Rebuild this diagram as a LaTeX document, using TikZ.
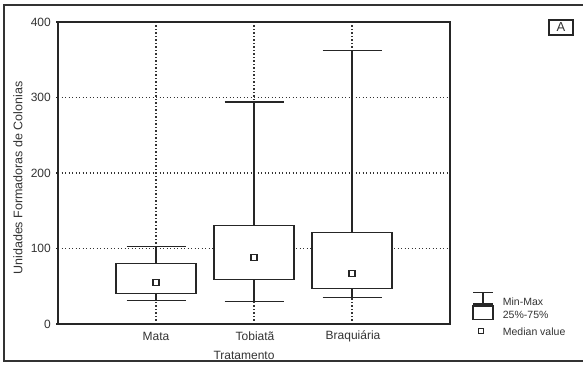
\documentclass[tikz,border=0pt]{standalone}
\usepackage{fontspec}
\setmainfont{Liberation Sans}
\tikzset{
  ln/.style={line width=1.2pt, draw=black!85},
  gridln/.style={line width=1.2pt, draw=black!80, dash pattern=on 1.2pt off 2.3pt},
  lab/.style={font=\fontsize{12}{14}\selectfont, text=black!80, inner sep=0pt},
  leg/.style={font=\fontsize{10.5}{12}\selectfont, text=black!80, inner sep=0pt, anchor=west},
  medsq/.style={draw=black!85, fill=white, line width=1.2pt, minimum size=6pt, inner sep=0pt, rectangle}
}
\newcommand\bxplot[7]{%
  \draw[ln] (#1,#5) -- (#1,#6) (#1-29.5,#6) -- (#1+29.5,#6);
  \draw[ln] (#1,#3) -- (#1,#2) (#1-29.5,#2) -- (#1+29.5,#2);
  \draw[ln, fill=white] (#1-40,#3) rectangle (#1+40,#5);
  \node[medsq] (#7) at (#1,#4) {};
}
\begin{document}
\begin{tikzpicture}[x=1pt,y=1pt]
\useasboundingbox (0,0) rectangle (583,365);
% outer frame
\draw[line width=1.3pt, black!80] (583,360) -- (4,360) -- (4,4) -- (583,4);
% plot
\begin{scope}[shift={(58,41)}, x=1pt, y=0.755pt]
  \foreach \v in {100,200,300} \draw[gridln] (0,\v) -- (392,\v);
  \foreach \c in {98,196,294} \draw[gridln] (\c,0) -- (\c,400);
  \bxplot{98}{31}{40}{55}{80}{103}{m1}
  \bxplot{196}{30}{59}{88}{130}{294}{m2}
  \bxplot{294}{35}{47}{67}{121}{362}{m3}
  \draw[ln] (0,0) rectangle (392,400);
  \foreach \v in {0,100,200,300,400} {
    \draw[ln] (-2,\v) -- (0,\v);
    \node[lab, anchor=east] (t\v) at (-7,\v) {\v};
  }
\end{scope}
% axis labels
\node[lab, rotate=90, font=\fontsize{12.5}{14}\selectfont] (ylab) at (18,187) {Unidades Formadoras de Colonias};
\node[lab] (c1) at (156,28.3) {Mata};
\node[lab] (c2) at (255,28.3) {Tobiatã};
\node[lab] (c3) at (353,28.3) {Braquiária};
\node[lab] (xlab) at (244,9.5) {Tratamento};
% panel letter
\node[lab, font=\fontsize{13}{15}\selectfont, draw=black!85, line width=1.2pt, minimum width=24pt, minimum height=15pt] (pA) at (561,337.5) {A};
% legend
\draw[ln] (473,72.3) -- (493,72.3) (483,72.3) -- (483,61) (473,61) -- (493,61);
\draw[ln] (473,59) rectangle (493,45.7);
\node[medsq, minimum size=5pt] (lm) at (481,34.3) {};
\node[leg] (l1) at (502.7,63.3) {Min-Max};
\node[leg] (l2) at (502.7,50.5) {25\%-75\%};
\node[leg] (l3) at (502.7,33.5) {Median value};
\end{tikzpicture}
\end{document}
